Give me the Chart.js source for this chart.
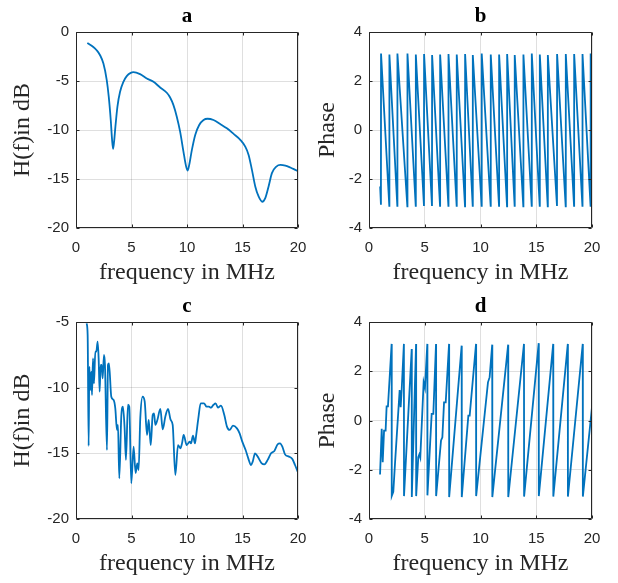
<!DOCTYPE html>
<html>
<head>
<meta charset="utf-8">
<script src="https://cdn.jsdelivr.net/npm/chart.js@4.4.1/dist/chart.umd.min.js"></script>
<style>
body { margin: 0; background: #fff; }
#wrap { position: relative; width: 618px; height: 583px; }
canvas { position: absolute; }
</style>
</head>
<body>
<div id="wrap">
  <canvas id="chartA" width="309" height="290" style="left:0px;top:0px"></canvas>
  <canvas id="chartB" width="309" height="290" style="left:309px;top:0px"></canvas>
  <canvas id="chartC" width="309" height="293" style="left:0px;top:290px"></canvas>
  <canvas id="chartD" width="309" height="293" style="left:309px;top:290px"></canvas>
</div>
<script>
// panel a: magnitude of channel 1
const freqA = [1.02, 1.56, 1.86, 2.17, 2.47, 2.77, 2.95, 3.13, 3.25, 3.34, 3.43, 3.55, 3.73, 3.97, 4.27, 4.57, 4.93, 5.17, 5.77, 6.38, 6.98, 7.58, 8.18, 8.48, 8.78, 9.08, 9.38, 9.68, 9.89, 10.05, 10.2, 10.44, 10.74, 11.1, 11.49, 11.85, 12.39, 12.99, 13.59, 14.2, 14.8, 15.25, 15.55, 15.85, 16.15, 16.45, 16.78, 17.05, 17.35, 17.65, 18.05, 18.41, 18.86, 19.31, 19.76, 20.0];
const magA = [-1.12, -1.53, -1.86, -2.37, -3.22, -4.9, -6.6, -8.98, -11.0, -11.93, -11.2, -9.66, -7.63, -6.1, -5.08, -4.5, -4.17, -4.1, -4.3, -4.75, -5.08, -5.66, -6.2, -6.68, -7.46, -8.64, -10.17, -12.2, -13.56, -14.14, -13.56, -12.03, -10.5, -9.49, -8.98, -8.85, -8.98, -9.39, -9.83, -10.4, -11.0, -11.7, -12.54, -14.07, -15.76, -16.78, -17.32, -16.95, -15.76, -14.4, -13.73, -13.56, -13.63, -13.83, -14.07, -14.2];

// panel b: phase of channel 1
const freqB = [1.00, 1.07, 1.08, 1.82, 1.83, 2.54, 2.55, 3.44, 3.45, 4.19, 4.20, 4.93, 4.94, 5.65, 5.66, 6.37, 6.38, 7.12, 7.13, 7.86, 7.87, 8.61, 8.62, 9.30, 9.31, 10.10, 10.11, 10.91, 10.92, 11.66, 11.67, 12.38, 12.39, 13.06, 13.07, 13.84, 13.85, 14.59, 14.60, 15.31, 15.32, 16.03, 16.04, 16.86, 16.87, 17.64, 17.65, 18.39, 18.40, 19.14, 19.15, 19.87, 19.88, 20.00];
const phaseB = [-2.3, -3.05, 3.12, -3.1, 3.08, -3.1, 3.12, -3.12, 3.12, -3.1, 3.08, -3.1, 3.1, -3.1, 3.06, -3.1, 3.08, -3.1, 3.1, -3.1, 3.08, -3.12, 3.1, -3.1, 3.06, -3.1, 3.12, -3.1, 3.08, -3.1, 3.08, -3.12, 3.1, -3.1, 3.06, -3.12, 3.08, -3.1, 3.12, -3.1, 3.08, -3.12, 3.06, -3.1, 3.1, -3.12, 3.1, -3.1, 3.1, -3.1, 3.1, -3.1, 3.12, 2.0];

// panel c: magnitude of channel 2
const freqC = [0.96, 1.05, 1.14, 1.2, 1.29, 1.38, 1.44, 1.53, 1.62, 1.74, 1.83, 1.95, 2.04, 2.13, 2.22, 2.31, 2.4, 2.52, 2.61, 2.79, 2.88, 2.97, 3.18, 3.39, 3.54, 3.69, 3.78, 3.9, 4.08, 4.23, 4.38, 4.5, 4.68, 4.8, 4.98, 5.19, 5.37, 5.52, 5.64, 5.79, 6.0, 6.19, 6.4, 6.55, 6.73, 6.91, 7.03, 7.15, 7.33, 7.6, 7.81, 8.05, 8.29, 8.53, 8.71, 8.95, 9.19, 9.4, 9.55, 9.7, 9.97, 10.24, 10.36, 10.54, 10.72, 10.81, 11.02, 11.23, 11.53, 11.77, 11.98, 12.16, 12.37, 12.58, 12.79, 13.06, 13.36, 13.6, 13.84, 14.14, 14.5, 14.74, 14.98, 15.28, 15.52, 15.77, 15.92, 16.13, 16.37, 16.73, 16.97, 17.27, 17.57, 17.87, 18.17, 18.38, 18.59, 18.83, 19.19, 19.49, 19.73, 20.0];
const magC = [-5.1, -5.99, -14.44, -8.4, -10.18, -8.78, -10.56, -7.77, -9.67, -7.26, -7.26, -6.5, -7.77, -10.3, -8.27, -8.27, -9.29, -7.51, -8.27, -14.75, -8.27, -8.15, -10.69, -10.94, -11.57, -13.22, -12.84, -16.9, -12.2, -11.45, -13.1, -15.5, -11.3, -11.45, -17.28, -14.5, -16.5, -15.76, -16.27, -12.34, -10.69, -11.07, -13.6, -12.46, -14.37, -12.08, -11.95, -12.84, -12.46, -11.62, -13.17, -12.2, -11.62, -12.46, -12.84, -16.65, -14.37, -14.62, -14.24, -13.6, -14.37, -14.11, -14.24, -13.65, -14.24, -13.73, -12.34, -11.19, -11.19, -11.45, -11.45, -11.52, -11.32, -11.19, -11.52, -11.37, -12.08, -12.97, -13.22, -12.89, -13.1, -13.48, -14.11, -14.75, -15.38, -15.89, -15.63, -15.0, -15.25, -15.76, -15.84, -15.5, -15.0, -14.82, -14.31, -14.24, -14.49, -15.08, -15.25, -15.43, -15.89, -16.45];

// panel d: phase of channel 2
const freqD = [0.99, 1.14, 1.23, 1.35, 1.49, 1.58, 1.70, 2.03, 2.04, 2.18, 2.33, 2.75, 2.84, 2.93, 3.13, 3.14, 3.83, 3.84, 4.22, 4.23, 4.42, 4.51, 4.60, 4.90, 5.02, 5.23, 5.24, 5.62, 5.77, 6.01, 6.02, 6.46, 6.58, 6.73, 6.88, 7.18, 7.19, 8.31, 8.32, 8.91, 9.03, 9.60, 9.61, 10.67, 10.82, 11.05, 11.06, 12.48, 12.49, 13.90, 13.91, 15.22, 15.23, 16.52, 16.53, 17.83, 17.84, 19.17, 19.18, 20.00];
const phaseD = [-2.19, -0.34, -1.69, -0.41, -0.41, 0.57, 0.57, 3.11, -3.07, -2.9, -1.76, 1.24, 0.54, 1.24, 3.11, -3.07, 2.9, -3.11, 3.11, -3.07, -1.49, -1.38, -1.51, 1.55, 1.32, 3.11, -3.04, 0.27, 0.27, 3.11, -3.07, -0.81, -0.68, 0.74, 0.74, 3.11, -3.11, 3.04, -3.11, 0.2, 0.2, 3.11, -3.07, 1.55, 1.76, 3.08, -3.11, 3.08, -3.11, 3.11, -3.09, 3.14, -3.07, 3.11, -3.09, 3.11, -3.09, 3.11, -3.09, 0.54];

const freqTicks = [0, 5, 10, 15, 20];
const magTicksA = [-20, -15, -10, -5, 0];
const magTicksC = [-20, -15, -10, -5];
const phaseTicks = [-4, -2, 0, 2, 4];

const lineColor = '#0072BD';
const axisColor = '#262626';
const gridColor = 'rgba(38,38,38,0.15)';

// box round the axes, inward ticks and the panel letter
const boxPlugin = {
    id: 'box',
    afterDraw(chart, args, opts) {
        const { ctx, chartArea: a, scales } = chart;
        const l = Math.round(a.left) + 0.5, r = Math.round(a.right) - 0.5;
        const t = Math.round(a.top) + 0.5, b = Math.round(a.bottom) - 0.5;
        ctx.save();
        ctx.strokeStyle = axisColor;
        ctx.lineWidth = 1;
        ctx.beginPath();
        ctx.rect(l, t, r - l, b - t);
        scales.x.ticks.forEach(tk => {
            const px = Math.round(scales.x.getPixelForValue(tk.value)) + 0.5;
            ctx.moveTo(px, b); ctx.lineTo(px, b - 3);
            ctx.moveTo(px, t); ctx.lineTo(px, t + 3);
        });
        scales.y.ticks.forEach(tk => {
            const py = Math.round(scales.y.getPixelForValue(tk.value)) + 0.5;
            ctx.moveTo(l, py); ctx.lineTo(l + 3, py);
            ctx.moveTo(r, py); ctx.lineTo(r - 3, py);
        });
        ctx.stroke();
        ctx.fillStyle = '#000';
        ctx.font = 'bold 21px "Liberation Serif"';
        ctx.textAlign = 'center';
        ctx.textBaseline = 'alphabetic';
        ctx.fillText(opts.letter, (a.left + a.right) / 2, a.top - 10.5);
        ctx.restore();
    }
};

function makePanel(id, p) {
    new Chart(document.getElementById(id), {
        type: 'line',
        data: {
            datasets: [{
                data: p.xs.map((x, i) => ({ x: x, y: p.ys[i] })),
                borderColor: lineColor,
                borderWidth: 1.8,
                pointRadius: 0,
                fill: false,
                cubicInterpolationMode: p.smooth ? 'monotone' : 'default',
                tension: 0
            }]
        },
        options: {
            responsive: false,
            animation: false,
            layout: { padding: { top: 32, right: p.rightPad, bottom: 0, left: 0 } },
            plugins: {
                legend: { display: false },
                tooltip: { enabled: false },
                box: { letter: p.letter }
            },
            scales: {
                x: {
                    type: 'linear',
                    min: 0, max: 20,
                    afterBuildTicks: s => { s.ticks = freqTicks.map(v => ({ value: v })); },
                    afterFit: s => { s.height = p.xHeight; s.paddingLeft = 0; s.paddingRight = 0; },
                    grid: { color: gridColor, drawTicks: false },
                    border: { display: false },
                    ticks: { color: axisColor, padding: 11, font: { family: '"Liberation Sans"', size: 15 } },
                    title: {
                        display: true, text: 'frequency in MHz', color: axisColor,
                        font: { family: '"Liberation Serif"', size: 24 },
                        padding: { top: 0, bottom: p.xTitlePad }
                    }
                },
                y: {
                    min: p.yMin, max: p.yMax,
                    afterBuildTicks: s => { s.ticks = p.yTicks.map(v => ({ value: v })); },
                    afterFit: s => { s.width = p.yWidth; },
                    grid: { color: gridColor, drawTicks: false },
                    border: { display: false },
                    ticks: { color: axisColor, padding: 7, font: { family: '"Liberation Sans"', size: 15 } },
                    title: {
                        display: true, text: p.yTitle, color: axisColor,
                        font: { family: '"Liberation Serif"', size: 24 },
                        padding: { top: p.yTitlePad, bottom: 0 }
                    }
                }
            }
        },
        plugins: [boxPlugin]
    });
}

makePanel('chartA', { letter: 'a', xs: freqA, ys: magA, smooth: true, yMin: -20, yMax: 0, yTicks: magTicksA,
    yTitle: 'H(f)in dB', yWidth: 76, xHeight: 62, rightPad: 11, xTitlePad: 2.6, yTitlePad: 8.6 });
makePanel('chartB', { letter: 'b', xs: freqB, ys: phaseB, smooth: false, yMin: -4, yMax: 4, yTicks: phaseTicks,
    yTitle: 'Phase', yWidth: 60, xHeight: 62, rightPad: 26, xTitlePad: 2.6, yTitlePad: 4.6 });
makePanel('chartC', { letter: 'c', xs: freqC, ys: magC, smooth: true, yMin: -20, yMax: -5, yTicks: magTicksC,
    yTitle: 'H(f)in dB', yWidth: 76, xHeight: 64, rightPad: 11, xTitlePad: 4.9, yTitlePad: 8.6 });
makePanel('chartD', { letter: 'd', xs: freqD, ys: phaseD, smooth: false, yMin: -4, yMax: 4, yTicks: phaseTicks,
    yTitle: 'Phase', yWidth: 60, xHeight: 64, rightPad: 26, xTitlePad: 4.9, yTitlePad: 4.6 });
</script>
</body>
</html>
